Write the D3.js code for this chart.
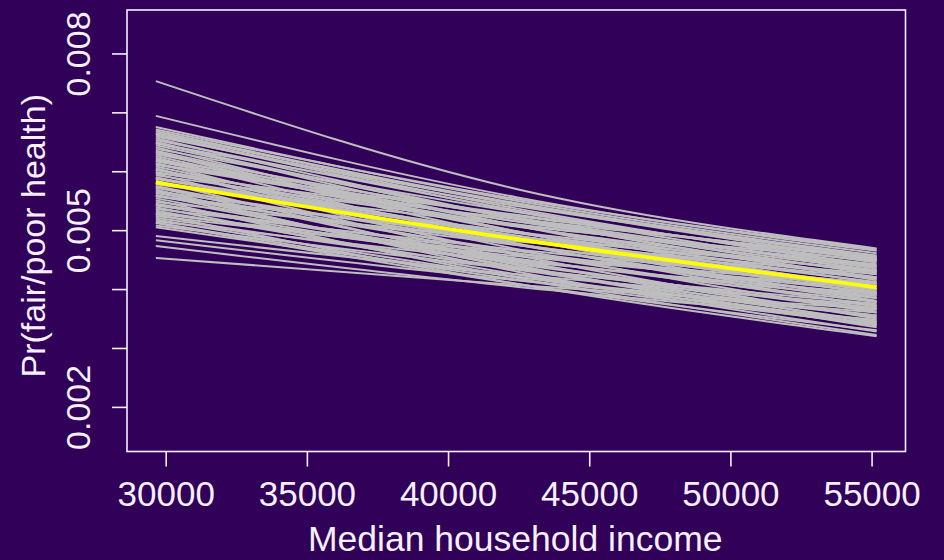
<!DOCTYPE html>
<html>
<head>
<meta charset="utf-8">
<script src="https://cdn.jsdelivr.net/npm/d3@7"></script>
<style>
  html, body { margin: 0; background: #310058; }
  svg { display: block; }
</style>
</head>
<body>
<div id="chart"></div>
<script>
// income values at which each fitted curve was evaluated
var income = [29650, 42415, 55180];

// simulated curves: Pr at low / middle / high income
var drawStart = [0.00753, 0.00694, 0.00675, 0.00671, 0.00668,
  0.00665, 0.00662, 0.00659, 0.00656, 0.00653, 0.00650, 0.00647, 0.00644, 0.00641, 0.00638,
  0.00635, 0.00632, 0.00629, 0.00626, 0.00623, 0.00620, 0.00617, 0.00614, 0.00611, 0.00608,
  0.00605, 0.00602, 0.00599, 0.00596, 0.00593, 0.00590, 0.00587, 0.00584, 0.00578, 0.00575,
  0.00572, 0.00569, 0.00566, 0.00563, 0.00560, 0.00557, 0.00554, 0.00551, 0.00548, 0.00545,
  0.00542, 0.00539, 0.00536, 0.00533, 0.00530, 0.00527, 0.00524, 0.00521, 0.00518, 0.00515,
  0.00512, 0.00508, 0.00505,
  0.00663, 0.00648, 0.00633, 0.00618, 0.00603, 0.00588, 0.00573, 0.00558, 0.00543, 0.00528,
  0.00513, 0.00597, 0.00612, 0.00580, 0.00565,
  0.00490, 0.00483, 0.00473, 0.00453];
var drawMid = [0.00570, 0.00556, 0.00550, 0.00553, 0.00546,
  0.00544, 0.00532, 0.00544, 0.00520, 0.00534, 0.00508, 0.00541, 0.00521, 0.00498, 0.00531,
  0.00508, 0.00488, 0.00521, 0.00497, 0.00478, 0.00526, 0.00507, 0.00468, 0.00515, 0.00486,
  0.00458, 0.00506, 0.00491, 0.00450, 0.00510, 0.00475, 0.00490, 0.00441, 0.00497, 0.00461,
  0.00476, 0.00430, 0.00484, 0.00465, 0.00438, 0.00475, 0.00446, 0.00419, 0.00481, 0.00452,
  0.00461, 0.00425, 0.00467, 0.00433, 0.00450, 0.00409, 0.00456, 0.00436, 0.00421, 0.00447,
  0.00409, 0.00434, 0.00421,
  0.00537, 0.00519, 0.00498, 0.00515, 0.00476, 0.00495, 0.00447, 0.00489, 0.00443, 0.00460,
  0.00416, 0.00519, 0.00524, 0.00508, 0.00436,
  0.00425, 0.00415, 0.00404, 0.00407];
var drawEnd = [0.00469, 0.00465, 0.00461, 0.00467, 0.00457,
  0.00448, 0.00430, 0.00452, 0.00415, 0.00440, 0.00400, 0.00455, 0.00425, 0.00390, 0.00445,
  0.00410, 0.00380, 0.00435, 0.00398, 0.00370, 0.00450, 0.00420, 0.00360, 0.00438, 0.00392,
  0.00350, 0.00428, 0.00405, 0.00342, 0.00442, 0.00385, 0.00412, 0.00335, 0.00430, 0.00372,
  0.00400, 0.00328, 0.00418, 0.00388, 0.00345, 0.00408, 0.00362, 0.00322, 0.00425, 0.00378,
  0.00395, 0.00338, 0.00410, 0.00355, 0.00385, 0.00320, 0.00400, 0.00368, 0.00345, 0.00392,
  0.00330, 0.00375, 0.00355,
  0.00438, 0.00418, 0.00395, 0.00432, 0.00378, 0.00420, 0.00352, 0.00432, 0.00365, 0.00405,
  0.00340, 0.00455, 0.00452, 0.00448, 0.00340,
  0.00372, 0.00360, 0.00348, 0.00366];

// average curve (yellow)
var meanCurve = [0.00581, 0.00485, 0.00403];

var xTicks = [30000, 35000, 40000, 45000, 50000, 55000];
var yTicks = [0.002, 0.003, 0.004, 0.005, 0.006, 0.007, 0.008];
var yTickLabels = ["0.002", "", "", "0.005", "", "", "0.008"];
var xLimits = [29650, 55180];
var yLimits = [0.00152, 0.00846];

var fg = "#f5f0ff";
var totalW = 944, totalH = 560;
var margin = { top: 10, right: 38.5, bottom: 108.5, left: 127 },
  width = totalW - margin.left - margin.right,
  height = totalH - margin.top - margin.bottom;

// R style 4% padding on the axis ranges
function pad(lim) {
  var d = (lim[1] - lim[0]) * 0.04;
  return [lim[0] - d, lim[1] + d];
}

var svg = d3.select("#chart")
  .append("svg")
  .attr("width", totalW)
  .attr("height", totalH)
  .style("font-family", "'Liberation Sans', Arial, sans-serif");

svg.append("rect")
  .attr("width", totalW)
  .attr("height", totalH)
  .attr("fill", "#310058");

var g = svg.append("g")
  .attr("transform", "translate(" + margin.left + "," + margin.top + ")");

var x = d3.scaleLinear().domain(pad(xLimits)).range([0, width]);
var y = d3.scaleLinear().domain(pad(yLimits)).range([height, 0]);

var line = d3.line()
  .x(function (d, i) { return x(income[i]); })
  .y(function (d) { return y(d); })
  .curve(d3.curveNatural);

var draws = drawStart.map(function (s, i) { return [s, drawMid[i], drawEnd[i]]; });

g.selectAll(".draw")
  .data(draws)
  .enter().append("path")
  .attr("class", "draw")
  .attr("fill", "none")
  .attr("stroke", "#bebebe")
  .attr("stroke-width", 2)
  .attr("d", line);

g.append("path")
  .datum(meanCurve)
  .attr("fill", "none")
  .attr("stroke", "#ffff00")
  .attr("stroke-width", 3.8)
  .attr("d", line);

// box
g.append("rect")
  .attr("x", 0).attr("y", 0)
  .attr("width", width).attr("height", height)
  .attr("fill", "none")
  .attr("stroke", fg)
  .attr("stroke-width", 1.6);

// x axis
var xAxis = g.append("g")
  .attr("transform", "translate(0," + height + ")")
  .call(d3.axisBottom(x).tickValues(xTicks).tickSize(15).tickFormat(d3.format("d")));
xAxis.select(".domain").remove();
xAxis.selectAll("line").attr("stroke", fg).attr("stroke-width", 1.6);
xAxis.selectAll("text")
  .attr("y", 54.5).attr("dy", 0)
  .attr("fill", fg)
  .style("font-size", "35px");

// y axis
var yAxis = g.append("g")
  .call(d3.axisLeft(y).tickValues(yTicks).tickSize(15)
    .tickFormat(function (d, i) { return yTickLabels[i]; }));
yAxis.select(".domain").remove();
yAxis.selectAll("line").attr("stroke", fg).attr("stroke-width", 1.6);
yAxis.selectAll("text")
  .attr("x", 0).attr("y", 0).attr("dy", 0)
  .attr("transform", "translate(-37.5,0) rotate(-90)")
  .attr("text-anchor", "middle")
  .attr("fill", fg)
  .style("font-size", "34px");

// titles
svg.append("text")
  .attr("x", margin.left + width / 2 - 1)
  .attr("y", 551)
  .attr("text-anchor", "middle")
  .attr("fill", fg)
  .style("font-size", "35.5px")
  .text("Median household income");

svg.append("text")
  .attr("transform", "translate(45," + (margin.top + height / 2 + 5) + ") rotate(-90)")
  .attr("text-anchor", "middle")
  .attr("fill", fg)
  .style("font-size", "34px")
  .text("Pr(fair/poor health)");
</script>
</body>
</html>
